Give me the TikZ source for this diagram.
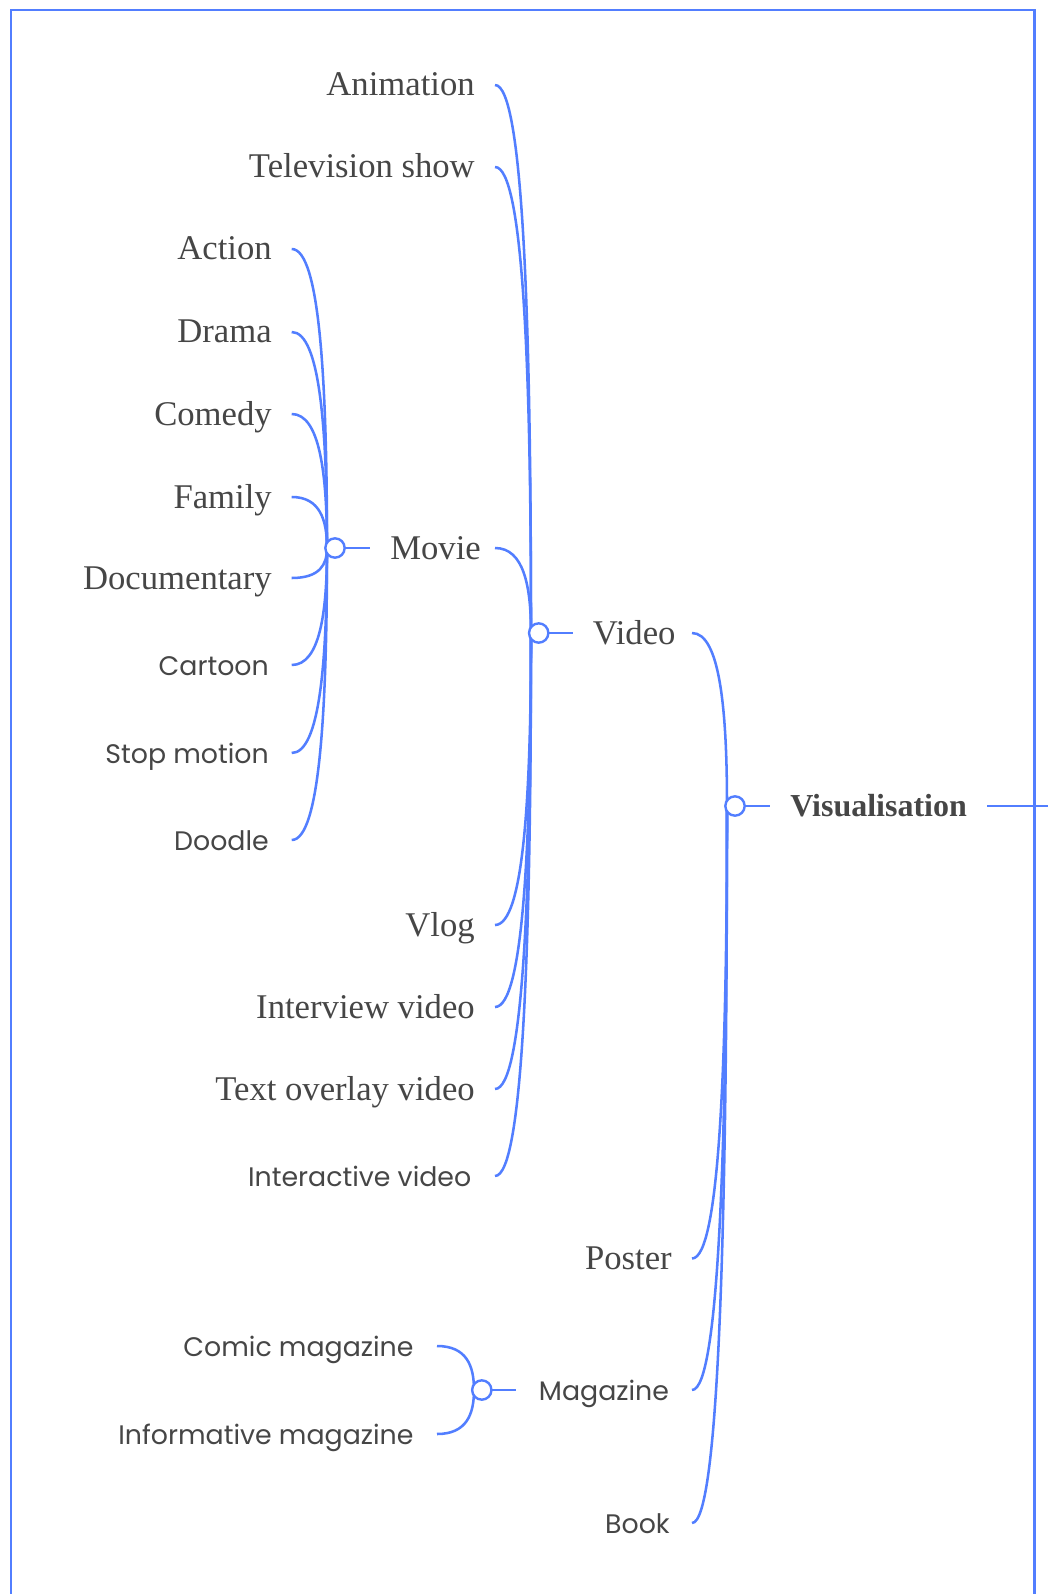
\documentclass[tikz,border=0pt]{standalone}
\usepackage{fontspec}
\setmainfont{Liberation Serif}
\newfontfamily\labelsans{Poppins}
\usetikzlibrary{calc}
\definecolor{linkblue}{RGB}{82,126,255}
\definecolor{labelgrey}{RGB}{70,70,70}

% branch from a label's line start into a hub: leaves horizontally, enters vertically
\newcommand\branch[2]{%
  \draw[link] (#1) .. controls ($(#1)!0.8!(#1 -| #2)$) and ($(#2)!0.55!(#1 -| #2)$) .. (#2);}

\begin{document}
\begin{tikzpicture}[x=0.75pt,y=-0.75pt,
  link/.style={draw=linkblue,line width=1.9pt},
  framebox/.style={draw=linkblue,line width=2pt},
  hub/.style={circle,draw=linkblue,fill=white,line width=1.8pt,minimum size=14.5pt,inner sep=0pt},
  serifl/.style={text=labelgrey,font=\fontsize{26}{30}\selectfont,inner sep=0pt,anchor=base east,yshift=-8.25pt},
  sansl/.style={text=labelgrey,font=\labelsans\fontsize{20.1}{24}\selectfont,inner sep=0pt,anchor=base east,yshift=-7.5pt},
  rootl/.style={text=labelgrey,font=\bfseries\fontsize{24}{29}\selectfont,inner sep=0pt,anchor=base west,yshift=-7.5pt}]

\path[use as bounding box] (0,0) rectangle (1048,1594);

% outer frame (open at the bottom)
\draw[framebox] (11,1594) -- (11,10) -- (1034.5,10) -- (1034.5,1594);

% ---- hubs ----
\coordinate (vis) at (735,806);
\coordinate (vid) at (538.7,633);
\coordinate (mov) at (335,548);
\coordinate (mag) at (481.8,1390);
\coordinate (vis-in) at (727,806);
\coordinate (vid-in) at (531,633);
\coordinate (mov-in) at (327,548);
\coordinate (mag-in) at (474,1390);

% ---- root ----
\node[rootl] (visualisation) at (790,806) {Visualisation};
\coordinate (vis-out) at (987,806);
\coordinate (vis-edge) at (1048,806);
\draw[link] (vis-out) -- (vis-edge);

% ---- level 1 ----
\node[serifl,anchor=base west] (video) at (592.6,633) {Video};
\node[serifl] (poster) at (672,1258.5) {Poster};
\node[sansl,anchor=base west] (magazine) at (538.7,1390) {Magazine};
\node[sansl] (book) at (670,1523) {Book};
\coordinate (video-s) at (692,633);
\coordinate (poster-s) at (692,1258.5);
\coordinate (magazine-s) at (692,1390);
\coordinate (book-s) at (692,1523);

% ---- video children ----
\node[serifl] (animation) at (475,85) {Animation};
\node[serifl] (tvshow) at (475,167) {Television show};
\node[serifl,anchor=base west] (movie) at (390,548) {Movie};
\node[serifl] (vlog) at (475,925) {Vlog};
\node[serifl] (interview) at (475,1007) {Interview video};
\node[serifl] (overlay) at (475,1089) {Text overlay video};
\node[sansl] (interactive) at (471.5,1176) {Interactive video};
\coordinate (animation-s) at (495,85);
\coordinate (tvshow-s) at (495,167);
\coordinate (movie-s) at (495,548);
\coordinate (vlog-s) at (495,925);
\coordinate (interview-s) at (495,1007);
\coordinate (overlay-s) at (495,1089);
\coordinate (interactive-s) at (495,1176);

% ---- movie children ----
\node[serifl] (action) at (272,249) {Action};
\node[serifl] (drama) at (272,332) {Drama};
\node[serifl] (comedy) at (272,414) {Comedy};
\node[serifl] (family) at (272,497) {Family};
\node[serifl] (documentary) at (272,578) {Documentary};
\node[sansl] (cartoon) at (269,665) {Cartoon};
\node[sansl] (stopmotion) at (269,753) {Stop motion};
\node[sansl] (doodle) at (269,840) {Doodle};
\foreach \n/\y in {action/249,drama/332,comedy/414,family/497,documentary/578,cartoon/665,stopmotion/753,doodle/840}
  \coordinate (\n-s) at (291.7,\y);

% ---- magazine children ----
\node[sansl] (comic) at (413.7,1346) {Comic magazine};
\node[sansl] (informative) at (413.7,1434) {Informative magazine};
\coordinate (comic-s) at (437,1346);
\coordinate (informative-s) at (437,1434);

% ---- connectors ----
\foreach \c in {video,poster,magazine,book} \branch{\c-s}{vis-in};
\foreach \c in {animation,tvshow,movie,vlog,interview,overlay,interactive} \branch{\c-s}{vid-in};
\foreach \c in {action,drama,comedy,family,documentary,cartoon,stopmotion,doodle} \branch{\c-s}{mov-in};
\foreach \c in {comic,informative} \branch{\c-s}{mag-in};

% hub stubs
\coordinate (vis-stub) at (770,806);
\coordinate (vid-stub) at (573,633);
\coordinate (mov-stub) at (370,548);
\coordinate (mag-stub) at (516,1390);
\draw[link] (vis) -- (vis-stub);
\draw[link] (vid) -- (vid-stub);
\draw[link] (mov) -- (mov-stub);
\draw[link] (mag) -- (mag-stub);

% hub circles on top
\node[hub] (vishub) at (vis) {};
\node[hub] (vidhub) at (vid) {};
\node[hub] (movhub) at (mov) {};
\node[hub] (maghub) at (mag) {};
\end{tikzpicture}
\end{document}
